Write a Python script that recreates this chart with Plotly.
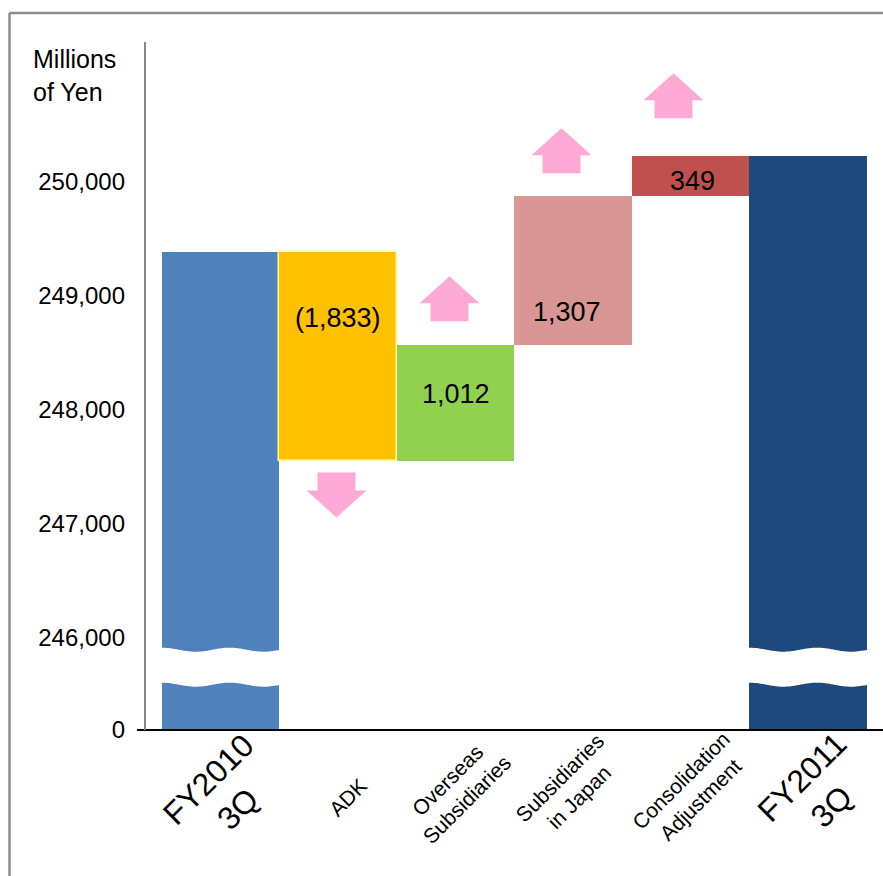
import numpy as np
import plotly.graph_objects as go

# ---------------- data ----------------
categories = ["FY2010<br>3Q", "ADK", "Overseas<br>Subsidiaries", "Subsidiaries<br>in Japan",
              "Consolidation<br>Adjustment", "FY2011<br>3Q"]
start_value = 249390          # FY2010 3Q (millions of yen)
changes = [-1833, 1012, 1307, 349]
change_labels = ["(1,833)", "1,012", "1,307", "349"]
y_tick_values = [0, 246000, 247000, 248000, 249000, 250000]
y_tick_labels = ["0", "246,000", "247,000", "248,000", "249,000", "250,000"]

# ---------------- styles ----------------
bar_colors = ["#4F81BD", "#FFC000", "#92D050", "#D99694", "#C0504D", "#1F497D"]
bar_line_colors = ["rgba(0,0,0,0)", "#FFFF99", "rgba(0,0,0,0)", "rgba(0,0,0,0)", "rgba(0,0,0,0)", "rgba(0,0,0,0)"]
bar_line_widths = [0, 1.5, 0, 0, 0, 0]
arrow_color = "#FFA9D6"
FONT = "Arial"

W, H = 883, 876
ML, MR, MT, MB = 145, 0, 42, 146
PW, PH = W - ML - MR, H - MT - MB
PX_PER_X = 117.5              # pixels per category slot
PX_PER_Y = 0.114              # pixels per display unit
X_LEFT = -0.6426
Y_TOP = PH / PX_PER_Y

# broken axis: values above BREAK_FLOOR keep their scale, 0..BREAK_FLOOR is compressed
BREAK_FLOOR = 246000
BREAK_SPAN = 807


def to_display(v):
    v = np.asarray(v, dtype=float)
    return np.where(v >= BREAK_FLOOR, v - BREAK_FLOOR + BREAK_SPAN, v * BREAK_SPAN / BREAK_FLOOR)


def px2paper_x(px):
    return (px - ML) / PW


def px2paper_y(py):
    return (H - MB - py) / PH


levels = [start_value]
for c in changes:
    levels.append(levels[-1] + c)
end_value = levels[-1]

bases = [0.0]
tops = [start_value]
for i, c in enumerate(changes):
    bases.append(min(levels[i], levels[i + 1]))
    tops.append(max(levels[i], levels[i + 1]))
bases.append(0.0)
tops.append(end_value)

base_d = to_display(bases)
top_d = to_display(tops)
xs = list(range(len(categories)))

fig = go.Figure()
fig.add_trace(go.Bar(
    x=xs, y=top_d - base_d, base=base_d, width=1.0,
    marker=dict(color=bar_colors, line=dict(color=bar_line_colors, width=bar_line_widths)),
    hoverinfo="skip", showlegend=False,
))

shapes = []

# wavy break bands on the two total bars
def wave_band(xc):
    period = 68 / PX_PER_X
    amp = 2 / PX_PER_Y
    top_c = (H - MB - 649.7) / PX_PER_Y
    bot_c = (H - MB - 684.7) / PX_PER_Y
    x0 = xc - 0.5 - 0.01
    x1 = xc + 0.5 + 0.01
    xx = np.linspace(x0, x1, 60)
    ph = 2 * np.pi * (xx - (xc - 0.5)) / period
    top = top_c + amp * np.cos(ph)
    bot = bot_c + amp * np.cos(ph)
    pts = [f"{x:.4f},{y:.2f}" for x, y in zip(xx, top)]
    pts += [f"{x:.4f},{y:.2f}" for x, y in zip(xx[::-1], bot[::-1])]
    return "M" + " L".join(pts) + " Z"

for i in (0, len(categories) - 1):
    shapes.append(dict(type="path", xref="x", yref="y", path=wave_band(i),
                       fillcolor="white", line=dict(width=0), layer="above"))

# block arrows showing direction of each change
arrow_x_offsets = [-0.013, -0.051, -0.098, -0.145]
arrow_gaps_px = [12, 24, 23, 38]

def arrow_path(xc, y0, direction):
    sh = 19 / PX_PER_X
    hh = 30 / PX_PER_X
    s = direction * 18 / PX_PER_Y
    t = direction * 45 / PX_PER_Y
    pts = [(xc - sh, y0), (xc - sh, y0 + s), (xc - hh, y0 + s), (xc, y0 + t),
           (xc + hh, y0 + s), (xc + sh, y0 + s), (xc + sh, y0)]
    return "M" + " L".join(f"{x:.4f},{y:.2f}" for x, y in pts) + " Z"

for k, c in enumerate(changes):
    i = k + 1
    d = 1 if c > 0 else -1
    gap = arrow_gaps_px[k] / PX_PER_Y
    y0 = top_d[i] + gap if d > 0 else base_d[i] - gap
    shapes.append(dict(type="path", xref="x", yref="y",
                       path=arrow_path(i + arrow_x_offsets[k], y0, d),
                       fillcolor=arrow_color, line=dict(width=0), layer="above"))

# axis lines and outer frame
shapes.append(dict(type="line", xref="paper", yref="paper", x0=px2paper_x(137), x1=1.0,
                   y0=0, y1=0, line=dict(color="black", width=2), layer="above"))
shapes.append(dict(type="line", xref="paper", yref="paper", x0=0, x1=0,
                   y0=0, y1=1, line=dict(color="#868686", width=2), layer="above"))
shapes.append(dict(type="line", xref="paper", yref="paper", x0=px2paper_x(9.5), x1=px2paper_x(900),
                   y0=px2paper_y(13), y1=px2paper_y(13), line=dict(color="#8C8C8C", width=2.5)))
shapes.append(dict(type="line", xref="paper", yref="paper", x0=px2paper_x(9.5), x1=px2paper_x(9.5),
                   y0=px2paper_y(13), y1=px2paper_y(900), line=dict(color="#8C8C8C", width=2.5)))

annotations = []

# value labels inside the change bars
label_fracs = [0.32, 0.42, 0.78, 0.62]     # position from bar top
label_x_offsets = [0.0, 0.0, -0.055, 0.02]
for k, txt in enumerate(change_labels):
    i = k + 1
    yl = top_d[i] - label_fracs[k] * (top_d[i] - base_d[i])
    annotations.append(dict(x=i + label_x_offsets[k], y=yl, xref="x", yref="y", text=txt,
                            showarrow=False, font=dict(family=FONT, size=27, color="black")))

# rotated category labels
cat_font_sizes = [32, 21, 21, 21, 21, 32]
cat_x_offsets = [0.025, 0.08, 0.01, -0.03, 0.0, 0.075]
cat_y_px = [794, 797, 790, 787, 790, 792]
for i, cat in enumerate(categories):
    annotations.append(dict(x=i + cat_x_offsets[i], y=px2paper_y(cat_y_px[i]), xref="x", yref="paper",
                            text=cat, textangle=-45, showarrow=False, align="center",
                            xanchor="center", yanchor="middle",
                            font=dict(family=FONT, size=cat_font_sizes[i], color="black")))

# axis unit title
annotations.append(dict(x=px2paper_x(31), y=px2paper_y(43), xref="paper", yref="paper",
                        text="Millions<br>of Yen", showarrow=False, align="left",
                        xanchor="left", yanchor="top",
                        font=dict(family=FONT, size=25, color="black")))

fig.update_layout(
    width=W, height=H,
    margin=dict(l=ML, r=MR, t=MT, b=MB, pad=0),
    paper_bgcolor="white", plot_bgcolor="white",
    bargap=0,
    xaxis=dict(range=[X_LEFT, X_LEFT + PW / PX_PER_X], showticklabels=False, showgrid=False,
               zeroline=False, showline=False, ticks=""),
    yaxis=dict(range=[0, Y_TOP], tickvals=list(to_display(y_tick_values)), ticktext=y_tick_labels,
               showgrid=False, zeroline=False, showline=False, ticks="",
               ticklabelstandoff=19,
               tickfont=dict(family=FONT, size=24, color="black")),
    shapes=shapes,
    annotations=annotations,
    showlegend=False,
)

fig.write_html("out.html", config={"displayModeBar": False})
